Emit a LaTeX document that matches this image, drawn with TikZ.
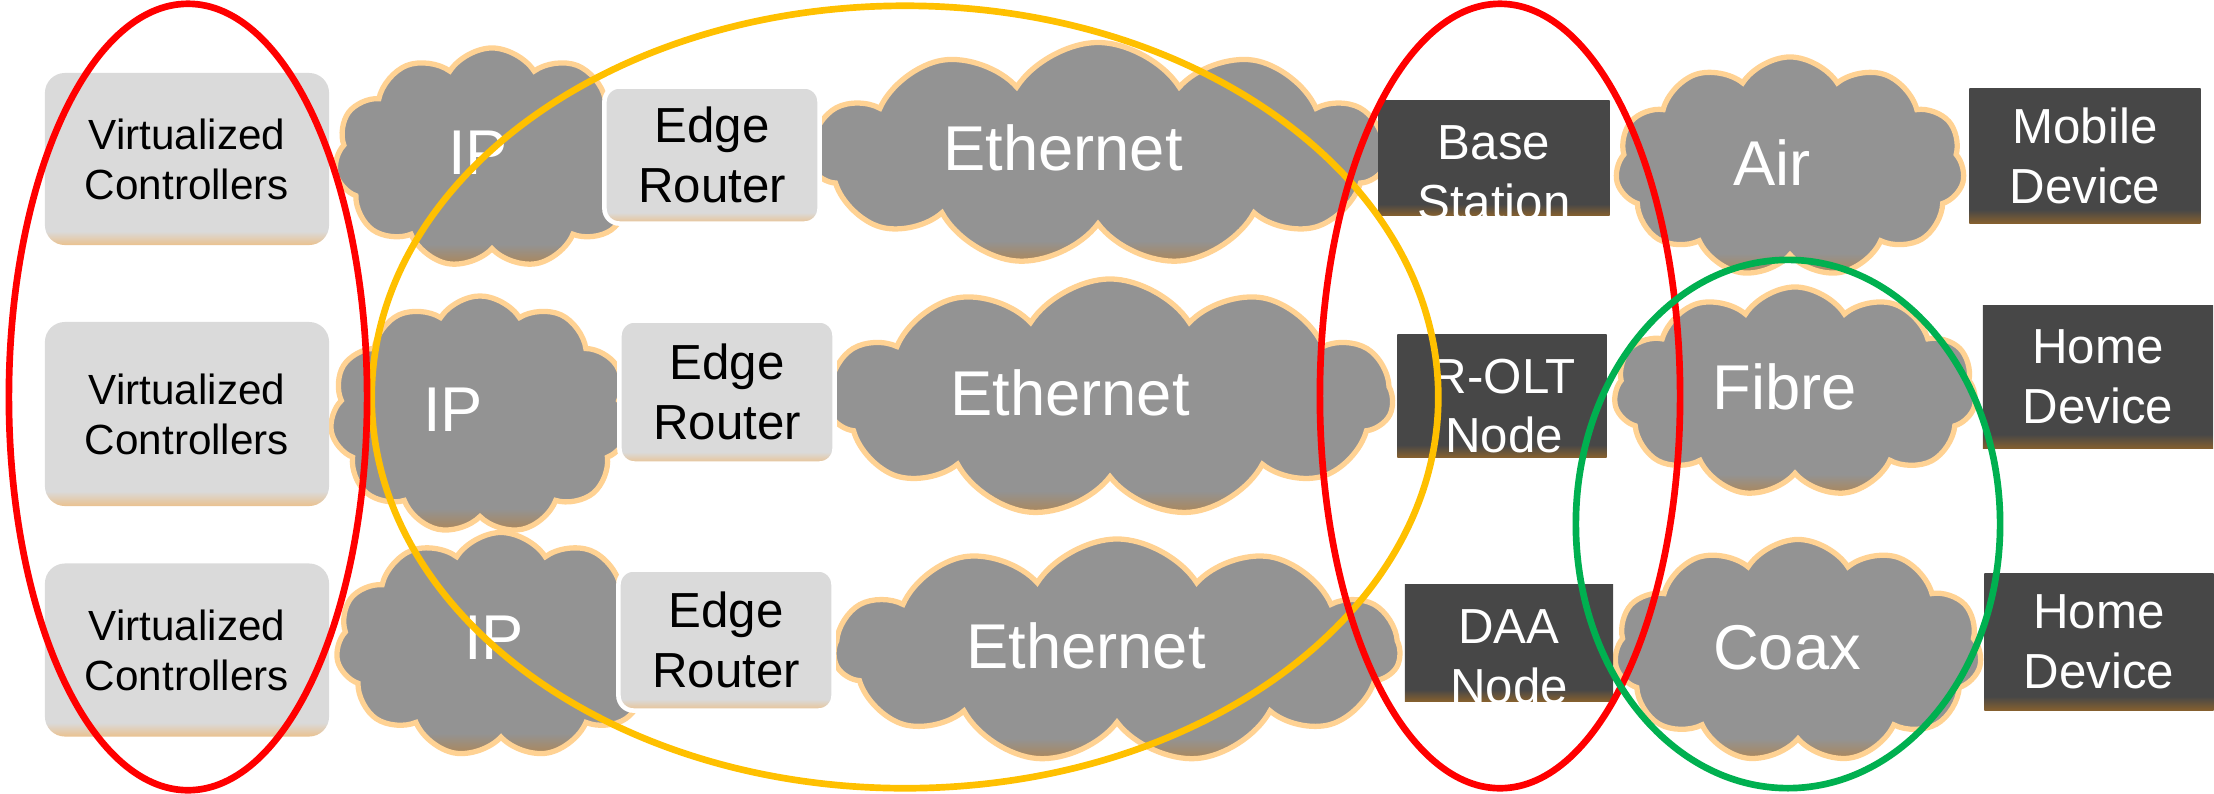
\documentclass[tikz,border=0pt]{standalone}
\usepackage{fontspec}
\setmainfont{Liberation Sans}
\usetikzlibrary{shapes.symbols}
\definecolor{cloudfill}{HTML}{939393}
\definecolor{cloudedge}{HTML}{FFD293}
\definecolor{cloudbase}{HTML}{AE8655}
\definecolor{boxlight}{HTML}{DADADA}
\definecolor{boxtan}{HTML}{EAC18E}
\definecolor{boxdark}{HTML}{474747}
\definecolor{boxbrown}{HTML}{85602F}
\definecolor{ringred}{HTML}{FF0000}
\definecolor{ringamber}{HTML}{FFC000}
\definecolor{ringgreen}{HTML}{00B050}
\pgfdeclareverticalshading{cloudshade}{100bp}{color(0bp)=(cloudbase); color(25bp)=(cloudbase); color(30bp)=(cloudfill); color(100bp)=(cloudfill)}
\pgfdeclareverticalshading{lightshade}{100bp}{color(0bp)=(boxtan); color(25bp)=(boxtan); color(29bp)=(boxlight); color(100bp)=(boxlight)}
\pgfdeclareverticalshading{darkshade}{100bp}{color(0bp)=(boxbrown); color(25bp)=(boxbrown); color(30bp)=(boxdark); color(100bp)=(boxdark)}

\begin{document}
\begin{tikzpicture}[x=0.01cm,y=-0.01cm,
  cl/.style={cloud,cloud puffs=11,cloud puff arc=115,cloud ignores aspect,draw=cloudedge,line width=1.5pt,shading=cloudshade,shade,inner sep=0pt},
  cltxt/.style={text=white,font=\fontsize{18}{21}\selectfont},
  vc/.style={rounded corners=0.2cm,shading=lightshade,shade,minimum width=2.84cm,align=center,font=\fontsize{12}{14.2}\selectfont},
  er/.style={rounded corners=0.15cm,draw=white,line width=1.3pt,shading=lightshade,shade,minimum width=2.15cm,align=center,font=\fontsize{14}{17}\selectfont},
  dk/.style={shading=darkshade,shade,align=center,text=white,font=\fontsize{14}{17}\selectfont},
  dktxt/.style={align=center,text=white,font=\fontsize{14}{17}\selectfont},
  ring/.style={line width=1.9pt}]
\useasboundingbox (0,0) rectangle (2214,793);

% clouds
\node[cl,minimum width=3.15cm,minimum height=2.2cm] (ip1) at (492,158) {};
\node[cl,minimum width=3.0cm,minimum height=2.38cm] (ip2) at (480,415) {};
\node[cl,minimum width=3.3cm,minimum height=2.25cm] (ip3) at (501,645) {};
\node[cltxt] (ip1t) at (478,153) {IP};
\node[cltxt] (ip2t) at (453,410) {IP};
\node[cltxt] (ip3t) at (494,638) {IP};
\node[cl,minimum width=5.75cm,minimum height=2.23cm] (eth1) at (1098,154) {};
\node[cl,minimum width=5.65cm,minimum height=2.38cm] (eth2) at (1110,398) {};
\node[cl,minimum width=5.65cm,minimum height=2.24cm] (eth3) at (1117,651) {};
\node[cltxt] (eth1t) at (1063,148) {Ethernet};
\node[cltxt] (eth2t) at (1070,393) {Ethernet};
\node[cltxt] (eth3t) at (1086,646) {Ethernet};
\node[cl,minimum width=3.49cm,minimum height=2.2cm] (air) at (1790,167) {};
\node[cl,minimum width=3.62cm,minimum height=2.1cm] (fibre) at (1795,392) {};
\node[cl,minimum width=3.67cm,minimum height=2.23cm] (coax) at (1798,651) {};
\node[cltxt] (airt) at (1772,163) {Air};
\node[cltxt] (fibret) at (1785,387) {Fibre};
\node[cltxt] (coaxt) at (1787,648) {Coax};

% boxes
\node[vc,minimum height=1.72cm] (vc1) at (187,159) {Virtualized\\Controllers};
\node[vc,minimum height=1.84cm] (vc2) at (187,414) {Virtualized\\Controllers};
\node[vc,minimum height=1.73cm] (vc3) at (187,650) {Virtualized\\Controllers};
\node[er,minimum height=1.37cm] (er1) at (712,155) {Edge\\Router};
\node[er,minimum height=1.43cm] (er2) at (727,392) {Edge\\Router};
\node[er,minimum height=1.41cm] (er3) at (726,640) {Edge\\Router};
\node[dk,minimum width=2.31cm,minimum height=1.15cm] (bs) at (1494,158) {};
\begin{scope}
\clip (bs.south west) rectangle (bs.north east);
\node[dktxt] (bst) at (1494,173) {Base\\Station};
\end{scope}
\node[dk,minimum width=2.09cm,minimum height=1.22cm] (rolt) at (1502,396) {};
\node[dktxt] (roltt) at (1504,406) {R-OLT\\Node};
\node[dk,minimum width=2.08cm,minimum height=1.16cm] (daa) at (1509,643) {};
\begin{scope}
\clip (daa.south west) rectangle (daa.north east);
\node[dktxt] (daat) at (1509,657) {DAA\\Node};
\end{scope}
\node[dk,minimum width=2.31cm,minimum height=1.34cm] (mob) at (2085,156) {Mobile\\Device};
\node[dk,minimum width=2.3cm,minimum height=1.43cm] (home1) at (2098,377) {Home\\Device};
\node[dk,minimum width=2.29cm,minimum height=1.36cm] (home2) at (2099,642) {Home\\Device};

% groups
\draw[ring,ringamber] (905,397) ellipse [x radius=5.33cm,y radius=3.91cm];
\draw[ring,ringred] (188,397) ellipse [x radius=1.79cm,y radius=3.93cm];
\draw[ring,ringred] (1500,396) ellipse [x radius=1.8cm,y radius=3.92cm];
\draw[ring,ringgreen] (1788,524) ellipse [x radius=2.12cm,y radius=2.64cm];
\end{tikzpicture}
\end{document}
